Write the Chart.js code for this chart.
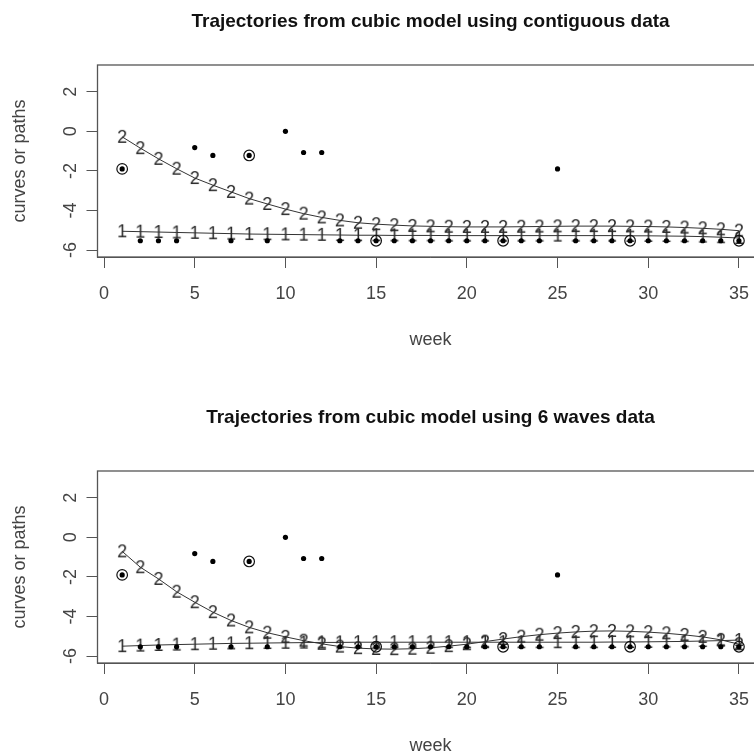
<!DOCTYPE html>
<html><head><meta charset="utf-8">
<script src="https://cdn.jsdelivr.net/npm/chart.js@4.4.1/dist/chart.umd.min.js"></script>
<style>
html,body{margin:0;padding:0;background:#fff;overflow:hidden;width:754px;height:756px;}
#wrap{position:relative;width:754px;height:756px;overflow:hidden;background:#fff;}
.c{position:absolute;left:0;width:800px;}
canvas{display:block;}
</style></head><body>
<div id="wrap">
<div class="c" style="top:0;height:406px"><canvas id="c1" width="800" height="406"></canvas></div>
<div class="c" style="top:406px;height:350px"><canvas id="c2" width="800" height="350"></canvas></div>
</div>
<script>
// ---- data ----
const weeks = [1,2,3,4,5,6,7,8,9,10,11,12,13,14,15,16,17,18,19,20,21,22,23,24,25,26,27,28,29,30,31,32,33,34,35];
const observed = [-1.9,-5.53,-5.53,-5.53,-0.82,-1.22,-5.53,-1.22,-5.53,0.0,-1.07,-1.07,
  -5.53,-5.53,-5.53,-5.53,-5.53,-5.53,-5.53,-5.53,-5.53,-5.53,-5.53,-5.53,
  -1.9,-5.53,-5.53,-5.53,-5.53,-5.53,-5.53,-5.53,-5.53,-5.53,-5.53];
const waveWeeks = [1,8,15,22,29,35];
const contiguousPath1 = [-5.05,-5.07,-5.09,-5.11,-5.13,-5.15,-5.17,-5.19,-5.20,-5.21,
  -5.22,-5.23,-5.24,-5.25,-5.25,-5.26,-5.26,-5.26,-5.27,-5.27,
  -5.27,-5.27,-5.27,-5.27,-5.27,-5.27,-5.27,-5.27,-5.28,-5.28,
  -5.29,-5.30,-5.32,-5.35,-5.39];
const contiguousPath2 = [-0.28,-0.85,-1.39,-1.89,-2.36,-2.72,-3.06,-3.40,-3.67,-3.93,
  -4.16,-4.35,-4.50,-4.62,-4.69,-4.74,-4.78,-4.80,-4.82,-4.83,
  -4.83,-4.83,-4.82,-4.81,-4.80,-4.79,-4.79,-4.79,-4.80,-4.81,
  -4.83,-4.86,-4.90,-4.95,-5.02];
const wavesPath1 = [-5.50,-5.47,-5.44,-5.42,-5.40,-5.38,-5.36,-5.35,-5.34,-5.33,
  -5.32,-5.31,-5.31,-5.30,-5.30,-5.30,-5.30,-5.30,-5.30,-5.30,
  -5.30,-5.30,-5.30,-5.30,-5.30,-5.30,-5.30,-5.29,-5.29,-5.28,
  -5.27,-5.26,-5.24,-5.22,-5.19];
const wavesPath2 = [-0.71,-1.51,-2.10,-2.75,-3.28,-3.78,-4.20,-4.55,-4.82,-5.03,
  -5.22,-5.38,-5.52,-5.60,-5.64,-5.65,-5.63,-5.58,-5.50,-5.40,
  -5.27,-5.14,-5.02,-4.92,-4.84,-4.78,-4.74,-4.73,-4.75,-4.79,
  -4.85,-4.93,-5.03,-5.18,-5.40];
const xTickValues = [0,5,10,15,20,25,30,35];
const yTickValues = [-6,-4,-2,0,2];
const pathLabels = ['1','2'];
const chartTitles = ['Trajectories from cubic model using contiguous data','Trajectories from cubic model using 6 waves data'];
const xTitle = 'week';
const yTitle = 'curves or paths';

// ---- styling helpers ----
const FONT = "'Liberation Sans', Arial, sans-serif";
function glyph(ch){
  const c = document.createElement('canvas');
  c.width = 16; c.height = 22;
  const g = c.getContext('2d');
  g.font = '18px ' + FONT;
  g.fillStyle = '#2a2a2a';
  g.textAlign = 'center';
  g.textBaseline = 'alphabetic';
  g.fillText(ch, 8, 11 + 6.4);
  return c;
}
const glyphs = pathLabels.map(glyph);

const decorPlugin = {
  id: 'decor',
  afterDraw(chart, args, opts){
    const {ctx, chartArea: a} = chart;
    const xs = chart.scales.x, ys = chart.scales.y;
    ctx.save();
    ctx.strokeStyle = '#555';
    ctx.lineWidth = 1.3;
    ctx.strokeRect(a.left, a.top, a.right - a.left, a.bottom - a.top);
    // x tick labels
    ctx.fillStyle = '#444';
    ctx.font = '18px ' + FONT;
    ctx.textAlign = 'center';
    ctx.textBaseline = 'alphabetic';
    xTickValues.forEach(v => ctx.fillText(String(v), xs.getPixelForValue(v), a.bottom + 42));
    // y tick labels (rotated)
    yTickValues.forEach(v => {
      ctx.save();
      ctx.translate(76, ys.getPixelForValue(v));
      ctx.rotate(-Math.PI/2);
      ctx.fillText(String(v), 0, 0);
      ctx.restore();
    });
    // axis titles
    const cx = (a.left + a.right) / 2;
    ctx.fillText(xTitle, cx, a.bottom + 88);
    ctx.save();
    ctx.translate(25, (a.top + a.bottom) / 2);
    ctx.rotate(-Math.PI/2);
    ctx.fillText(yTitle, 0, 0);
    ctx.restore();
    // main title
    ctx.fillStyle = '#111';
    ctx.font = 'bold 19px ' + FONT;
    ctx.fillText(opts.text, cx, opts.titleY);
    ctx.restore();
  }
};

function pts(vals){ return weeks.map((w,i) => ({x: w, y: vals[i]})); }
function wavePts(){ return waveWeeks.map(w => ({x: w, y: observed[weeks.indexOf(w)]})); }

function makeChart(id, p1, p2, title, titleY, canvasH){
  new Chart(document.getElementById(id), {
    type: 'line',
    data: {
      datasets: [
        {type:'scatter', data: pts(observed), order: 0, pointStyle:'circle', pointRadius: 2.6,
         backgroundColor:'#000', borderColor:'#000', borderWidth:0, showLine:false},
        {type:'scatter', data: wavePts(), order: 1, pointStyle:'circle', pointRadius: 5.3,
         backgroundColor:'rgba(0,0,0,0)', borderColor:'#111', pointBorderWidth:1.2, borderWidth:1.2, showLine:false},
        {data: pts(p2), order: 2, borderColor:'#333', borderWidth:1, pointStyle: glyphs[1], pointRadius: 5, tension: 0, fill:false},
        {data: pts(p1), order: 3, borderColor:'#333', borderWidth:1, pointStyle: glyphs[0], pointRadius: 5, tension: 0, fill:false}
      ]
    },
    options: {
      responsive: false,
      animation: false,
      events: [],
      layout: {padding: {top: 65, right: 800 - 763.6, left: 0, bottom: 0}},
      plugins: {legend:{display:false}, tooltip:{enabled:false}, title:{display:false},
        decor: {text: title, titleY: titleY}},
      scales: {
        x: {type:'linear', min: -0.36, max: 36.36,
          afterBuildTicks: s => { s.ticks = xTickValues.map(v => ({value: v})); },
          afterFit: s => { s.height = canvasH - 257; },
          ticks: {display: false},
          grid: {display: true, drawOnChartArea: false, drawTicks: true, tickLength: 11, color:'#555', lineWidth: 1},
          border: {display: true, color:'#555', width: 1}
        },
        y: {type:'linear', min: -6.35, max: 3.35,
          afterBuildTicks: s => { s.ticks = yTickValues.map(v => ({value: v})); },
          afterFit: s => { s.width = 97.5; },
          ticks: {display: false},
          grid: {display: true, drawOnChartArea: false, drawTicks: true, tickLength: 11, color:'#555', lineWidth: 1},
          border: {display: true, color:'#555', width: 1}
        }
      }
    },
    plugins: [decorPlugin]
  });
}
makeChart('c1', contiguousPath1, contiguousPath2, chartTitles[0], 27, 406);
makeChart('c2', wavesPath1, wavesPath2, chartTitles[1], 17, 350);
</script>
</body></html>
